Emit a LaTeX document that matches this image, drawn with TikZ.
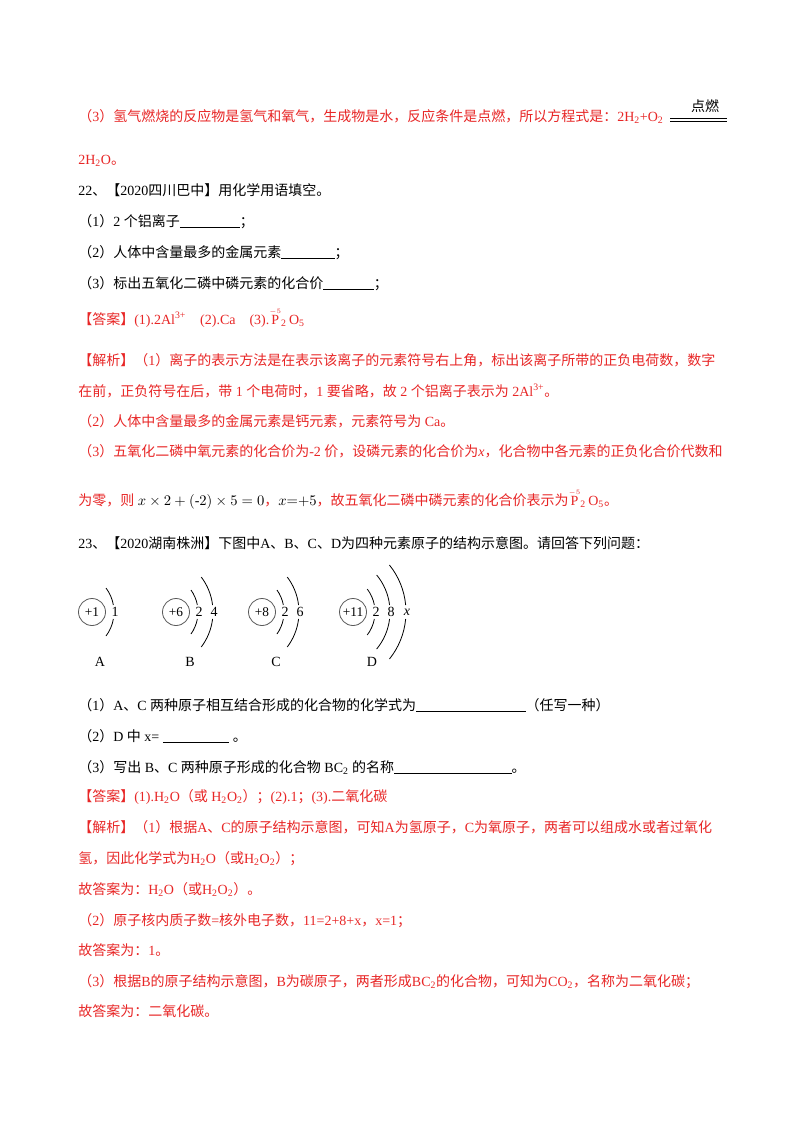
\documentclass[tikz,border=0pt]{standalone}
\usepackage{fontspec}
\setmainfont{Liberation Serif}
\newfontfamily\cjk{Noto Sans CJK SC}
\XeTeXinterchartokenstate=1
\newXeTeXintercharclass\cjkclass
\newcount\cc
\def\setrange#1#2{\cc=#1\relax\loop\XeTeXcharclass\cc=\cjkclass\ifnum\cc<#2\advance\cc by 1\repeat}
\setrange{"3000}{"303F}\setrange{"4E00}{"9FFF}\setrange{"FF00}{"FFEF}
\XeTeXinterchartoks 0 \cjkclass = {\cjk}
\XeTeXinterchartoks 4095 \cjkclass = {\cjk}
\XeTeXinterchartoks \cjkclass 0 = {\rmfamily}
\XeTeXinterchartoks \cjkclass 4095 = {\rmfamily}
\definecolor{ansred}{RGB}{232,38,38}
\newcommand{\blank}[1]{\rule[-1.5pt]{#1pt}{0.4pt}}
\newcommand{\val}{\(\stackrel{\scriptscriptstyle -5}{\mathrm{P}}\)\textsubscript{2}\,O\textsubscript{5}}
\begin{document}
\begin{tikzpicture}[x=0.75pt,y=-0.75pt,
  txt/.style={anchor=base west,inner sep=0pt,font=\fontsize{10.5pt}{12pt}\selectfont},
  red/.style={txt,text=ansred},
  blk/.style={txt,text=black},
  lab/.style={inner sep=0pt,font=\fontsize{10.5pt}{12pt}\selectfont}]
\fill[white] (0,0) rectangle (800,1132);
\node[red] (l1) at (78,121) {（3）氢气燃烧的反应物是氢气和氧气，生成物是水，反应条件是点燃，所以方程式是：2H\textsubscript{2}+O\textsubscript{2}};
\node[lab] (dr) at (705,106) {点燃};
\draw (670,118) -- (727,118) (670,121) -- (727,121);
\node[red] (l2) at (78,164) {2H\textsubscript{2}O。};
\node[blk] (q22) at (78,195) {22、【2020四川巴中】用化学用语填空。};
\node[blk] (q1) at (78,226) {（1）2 个铝离子\blank{45}；};
\node[blk] (q2) at (78,257) {（2）人体中含量最多的金属元素\blank{40}；};
\node[blk] (q3) at (78,288) {（3）标出五氧化二磷中磷元素的化合价\blank{38}；};
\node[red] (a22) at (78,324) {【答案】(1).2Al\textsuperscript{3+}\quad(2).Ca\quad(3).\val};
\node[red] (j1) at (78,365) {【解析】（1）离子的表示方法是在表示该离子的元素符号右上角，标出该离子所带的正负电荷数，数字};
\node[red] (j2) at (78,396) {在前，正负符号在后，带 1 个电荷时，1 要省略，故 2 个铝离子表示为 2Al\textsuperscript{3+}。};
\node[red] (j3) at (78,426) {（2）人体中含量最多的金属元素是钙元素，元素符号为 Ca。};
\node[red] (j4) at (78,456) {（3）五氧化二磷中氧元素的化合价为-2 价，设磷元素的化合价为\textit{x}，化合物中各元素的正负化合价代数和};
\node[red] (j5) at (78,505) {为零，则 {\color{black}\(x\times 2+\left(\mbox{-}2\right)\times 5=0\)}，{\color{black}\(x{=}{+}5\)}，故五氧化二磷中磷元素的化合价表示为\val。};
\node[blk] (q23) at (78,548) {23、【2020湖南株洲】下图中A、B、C、D为四种元素原子的结构示意图。请回答下列问题：};
% atoms
\foreach \cx/\q/\nm in {92/+1/A,176/+6/B,262/+8/C,353/+11/D}{
  \draw[gray!70!black,line width=0.6pt] (\cx,612) circle (13.5);
  \node[lab,font=\fontsize{10pt}{10pt}\selectfont] (n\nm) at (\cx,612) {\q};
}
\newcommand{\shell}[5]{% cx, dx, h, label, R
  \pgfmathsetmacro{\ang}{asin(#3/#5)}
  \pgfmathsetmacro{\gap}{asin(7/#5)}
  \draw[line width=0.6pt] ({#1+#2-#5},612) ++(-\ang:#5) arc[start angle=-\ang,end angle=-\gap,radius=#5];
  \draw[line width=0.6pt] ({#1+#2-#5},612) ++(\ang:#5) arc[start angle=\ang,end angle=\gap,radius=#5];
  \node[lab] at ({#1+#2+1},612) {#4};}
\shell{92}{22}{24}{1}{40}
\shell{176}{22}{22}{2}{38}
\shell{176}{37}{35}{4}{58}
\shell{262}{22}{22}{2}{38}
\shell{262}{37}{35}{6}{58}
\shell{353}{22}{23}{2}{38}
\shell{353}{37}{37}{8}{58}
\shell{353}{53}{47}{\textit{x}}{75}
\node[lab] (LA) at (100,662) {A};
\node[lab] (LB) at (190,662) {B};
\node[lab] (LC) at (276,662) {C};
\node[lab] (LD) at (372,662) {D};
\node[blk] (r1) at (78,710) {（1）A、C 两种原子相互结合形成的化合物的化学式为\blank{82}（任写一种）};
\node[blk] (r2) at (78,741) {（2）D 中 x= \blank{50} 。};
\node[blk] (r3) at (78,772) {（3）写出 B、C 两种原子形成的化合物 BC\textsubscript{2} 的名称\blank{88}。};
\node[red] (a23) at (78,801) {【答案】(1).H\textsubscript{2}O（或 H\textsubscript{2}O\textsubscript{2}）；(2).1；(3).二氧化碳};
\node[red] (k1) at (78,832) {【解析】（1）根据A、C的原子结构示意图，可知A为氢原子，C为氧原子，两者可以组成水或者过氧化};
\node[red] (k2) at (78,863) {氢，因此化学式为H\textsubscript{2}O（或H\textsubscript{2}O\textsubscript{2}）；};
\node[red] (k3) at (78,894) {故答案为：H\textsubscript{2}O（或H\textsubscript{2}O\textsubscript{2}）。};
\node[red] (k4) at (78,925) {（2）原子核内质子数=核外电子数，11=2+8+x，x=1；};
\node[red] (k5) at (78,955) {故答案为：1。};
\node[red] (k6) at (78,986) {（3）根据B的原子结构示意图，B为碳原子，两者形成BC\textsubscript{2}的化合物，可知为CO\textsubscript{2}，名称为二氧化碳；};
\node[red] (k7) at (78,1016) {故答案为：二氧化碳。};
\end{tikzpicture}
\end{document}
